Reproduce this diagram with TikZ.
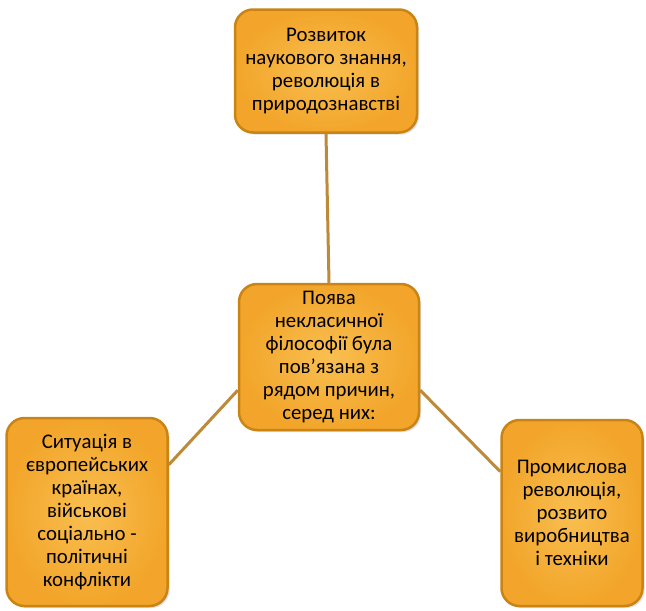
\documentclass[tikz,border=0pt]{standalone}
\usepackage{fontspec}
\setmainfont{Carlito}
\usetikzlibrary{shadows}
\definecolor{boxfill}{HTML}{F2A52A}
\definecolor{boxlight}{HTML}{F9BF50}
\definecolor{boxedge}{HTML}{C98414}
\definecolor{linkcol}{HTML}{BC8A38}
\tikzset{
  cause/.style={rectangle, rounded corners=18pt, draw=boxedge, line width=2.5pt,
    inner color=boxlight, outer color=boxfill, text=black,
    align=center, font=\fontsize{20.8}{23}\selectfont, inner sep=2pt,
    drop shadow={opacity=0.25, shadow xshift=2pt, shadow yshift=-2pt}},
  link/.style={draw=linkcol, line width=3pt}
}
\begin{document}
\begin{tikzpicture}[x=1pt,y=-1pt]
\useasboundingbox (0,0) rectangle (646,611);
\node [cause, minimum width=182pt, minimum height=123pt] (science) at (326,71)
  {Розвиток\\наукового знання,\\революція в\\природознавстві};
\node [cause, minimum width=180pt, minimum height=146pt] (origin) at (329,357)
  {Поява\\некласичної\\філософії була\\пов’язана з\\рядом причин,\\серед них:};
\node [cause, minimum width=161pt, minimum height=188pt] (europe) at (87,512)
  {Ситуація в\\європейських\\країнах,\\військові\\соціально -\\політичні\\конфлікти};
\node [cause, minimum width=141pt, minimum height=186pt] (industry) at (572,513)
  {Промислова\\революція,\\розвито\\виробництва\\і техніки};
\draw [link] (science.south) -- (origin.north);
\draw [link] (origin.200) -- (europe.30);
\draw [link] (origin.-20) -- (industry.150);
\end{tikzpicture}
\end{document}
